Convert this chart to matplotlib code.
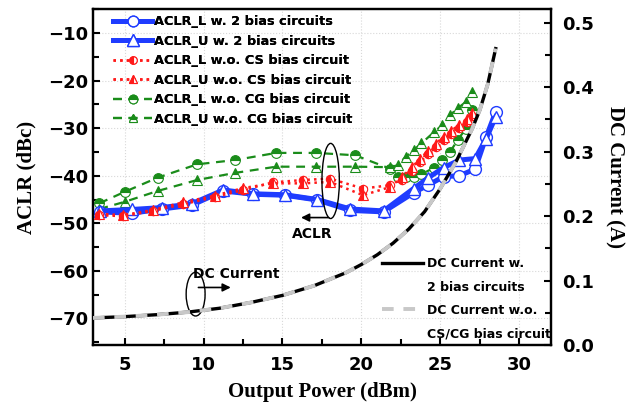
import matplotlib
matplotlib.use("Agg")
import matplotlib.pyplot as plt
from matplotlib.patches import Ellipse
from matplotlib.lines import Line2D
from matplotlib.ticker import MultipleLocator

# ---- data -------------------------------------------------------------
# ACLR with both bias circuits
pout_2b = [3.44, 5.45, 7.35, 9.25, 11.25, 13.15, 15.15, 17.2, 19.3, 21.4,
           23.3, 24.2, 25.2, 26.2, 27.2, 27.9, 28.5]
aclr_l_2b = [-47.6, -47.9, -47.0, -46.2, -43.2, -43.9, -44.1, -45.1, -47.3, -47.6,
             -43.6, -42.0, -40.2, -40.0, -38.6, -31.8, -26.6]
aclr_u_2b = [-47.4, -47.1, -46.7, -45.9, -43.0, -43.8, -44.0, -45.0, -47.0, -47.4,
             -42.7, -40.5, -38.3, -36.7, -36.4, -32.2, -27.6]

# ACLR without CS bias circuit
pout_cs = [3.4, 4.9, 6.8, 8.7, 10.7, 12.5, 14.4, 16.3, 18.0, 20.1, 21.8,
           22.6, 23.2, 23.7, 24.2, 24.7, 25.2, 25.7, 26.2, 26.7, 27.0]
aclr_l_cs = [-48.3, -48.5, -47.4, -46.0, -44.5, -43.0, -41.4, -40.9, -40.6, -42.7, -42.0,
             -40.8, -39.0, -37.2, -35.5, -34.0, -32.5, -31.2, -30.0, -28.8, -27.5]
aclr_u_cs = [-48.0, -48.3, -47.2, -45.6, -44.2, -42.6, -41.6, -41.6, -41.3, -44.1, -42.4,
             -40.2, -38.2, -36.5, -34.8, -33.3, -31.8, -30.5, -29.3, -28.0, -26.8]

# ACLR without CG bias circuit
pout_cg = [3.4, 5.0, 7.1, 9.6, 12.0, 14.6, 17.15, 19.6, 21.8, 22.3, 22.8, 23.3,
           23.8, 24.6, 25.1, 25.6, 26.1, 26.6, 27.0]
aclr_l_cg = [-45.8, -43.4, -40.4, -37.6, -36.7, -35.2, -35.2, -35.7, -38.5, -40.2, -40.3, -40.2,
             -39.7, -38.3, -36.7, -35.0, -32.5, -30.1, -26.2]
aclr_u_cg = [-47.0, -45.5, -43.2, -40.9, -39.4, -38.1, -38.1, -38.1, -38.2, -37.8, -36.0, -34.6,
             -33.2, -30.8, -29.4, -27.3, -25.8, -24.5, -22.3]

# DC current
pout_dc = [3, 5, 7, 9, 11, 13, 15, 17, 19, 20, 21, 22, 23, 24, 25, 26, 27, 27.5, 28, 28.5]
idc = [0.042, 0.044, 0.047, 0.051, 0.057, 0.066, 0.077, 0.092, 0.112, 0.125,
       0.140, 0.158, 0.180, 0.207, 0.243, 0.285, 0.335, 0.365, 0.405, 0.46]

# ---- figure -----------------------------------------------------------
fig = plt.figure(figsize=(6.39, 4.08), dpi=100)
ax = fig.add_axes([0.1455, 0.1544, 0.7167, 0.8228])
ax2 = ax.twinx()

sans_bold = dict(family="DejaVu Sans", weight="bold")
serif_bold = dict(family="Liberation Serif", weight="bold")

blue = "#1f3cff"
red = "#ff1a1a"
green = "#1a8c1a"

h1, = ax.plot(pout_2b, aclr_l_2b, '-', color=blue, lw=3.6, marker='o', ms=8.5,
              mfc='white', mec=blue, mew=1.0, label="ACLR_L w. 2 bias circuits", zorder=4)
h2, = ax.plot(pout_2b, aclr_u_2b, '-', color=blue, lw=3.6, marker='^', ms=9,
              mfc='white', mec=blue, mew=1.0, label="ACLR_U w. 2 bias circuits", zorder=4)
h3, = ax.plot(pout_cs, aclr_l_cs, ':', color=red, lw=1.8, marker='o', ms=6,
              fillstyle='left', mfc=red, mfcalt='white', mec=red, mew=0.8,
              label="ACLR_L w.o. CS bias circuit", zorder=5)
h4, = ax.plot(pout_cs, aclr_u_cs, ':', color=red, lw=1.8, marker='^', ms=6.5,
              fillstyle='left', mfc=red, mfcalt='white', mec=red, mew=0.8,
              label="ACLR_U w.o. CS bias circuit", zorder=5)
h5, = ax.plot(pout_cg, aclr_l_cg, '--', color=green, lw=1.6, dashes=(4, 3), marker='o', ms=7,
              fillstyle='top', mfc=green, mfcalt='white', mec=green, mew=0.8,
              label="ACLR_L w.o. CG bias circuit", zorder=3)
h6, = ax.plot(pout_cg, aclr_u_cg, '--', color=green, lw=1.6, dashes=(4, 3), marker='^', ms=7,
              fillstyle='top', mfc=green, mfcalt='white', mec=green, mew=0.8,
              label="ACLR_U w.o. CG bias circuit", zorder=3)

d1, = ax2.plot(pout_dc, idc, '-', color='black', lw=2.4, zorder=3)
d2, = ax2.plot(pout_dc, idc, '--', color='#c8c8c8', lw=2.8, dashes=(3, 2.5), zorder=4)

# ---- axes -------------------------------------------------------------
ax.set_xlim(3, 32)
ax.set_ylim(-75.6, -5)

ax.xaxis.set_major_locator(MultipleLocator(5))
ax.xaxis.set_minor_locator(MultipleLocator(2.5))
ax.yaxis.set_major_locator(MultipleLocator(10))
ax.yaxis.set_minor_locator(MultipleLocator(5))
ax2.yaxis.set_major_locator(MultipleLocator(0.1))
ax2.yaxis.set_minor_locator(MultipleLocator(0.05))

for a in (ax, ax2):
    for s in a.spines.values():
        s.set_linewidth(1.6)
    a.tick_params(which='both', direction='in', width=1.5, labelsize=13)
    a.tick_params(which='major', length=5)
    a.tick_params(which='minor', length=4)
ax.tick_params(axis='y', which='both', right=False)
ax.tick_params(axis='x', which='both', top=False, pad=8)
ax2.tick_params(axis='y', pad=8)

for lab in ax.get_xticklabels() + ax.get_yticklabels():
    lab.set_fontweight('bold')
    lab.set_family("DejaVu Sans")
idc_ticks = [0.0, 0.1, 0.2, 0.3, 0.4, 0.5]
ax2.set_yticks(idc_ticks)
ax2.set_yticklabels([f"{v:.1f}" for v in idc_ticks], **sans_bold, fontsize=13)
ax2.set_ylim(0, 0.521)

ax.grid(True, which='major', color='#d8d8d8', linestyle=':', linewidth=0.8)
ax.set_axisbelow(True)

ax.set_xlabel("Output Power (dBm)", fontsize=15, labelpad=6, **serif_bold)
ax.set_ylabel("ACLR (dBc)", fontsize=15, labelpad=8, **serif_bold)
ax2.set_ylabel("DC Current (A)", fontsize=15, rotation=270, labelpad=22, **serif_bold)

# ---- annotations ------------------------------------------------------
ax.add_patch(Ellipse((18.05, -41.1), 1.1, 15.8, fill=False, ec='black', lw=1.0, zorder=6))
ax.annotate("", xy=(16.0, -48.8), xytext=(18.1, -48.8),
            arrowprops=dict(arrowstyle='-|>', color='black', lw=1.2, mutation_scale=12), zorder=6)
ax.text(16.9, -52.3, "ACLR", fontsize=10, ha='center', va='center', **sans_bold)

ax.add_patch(Ellipse((9.5, -64.9), 1.2, 9.2, fill=False, ec='black', lw=1.0, zorder=6))
ax.annotate("", xy=(11.9, -63.5), xytext=(9.5, -63.5),
            arrowprops=dict(arrowstyle='-|>', color='black', lw=1.2, mutation_scale=12), zorder=6)
ax.text(12.1, -60.7, "DC Current", fontsize=10, ha='center', va='center', **sans_bold)

# ---- legends ----------------------------------------------------------
leg1 = ax.legend(handles=[h1, h2, h3, h4, h5, h6], loc='upper left',
                 bbox_to_anchor=(0.033, 0.997), borderaxespad=0, frameon=False,
                 numpoints=1, handlelength=3.0, handletextpad=0.15, labelspacing=0.5,
                 markerscale=0.9,
                 prop=dict(family="DejaVu Sans", weight="bold", size=9.3))
ax.add_artist(leg1)

blank = Line2D([], [], color='none')
leg2 = ax2.legend(handles=[d1, blank, d2, blank],
                  labels=["DC Current w.", "2 bias circuits", "DC Current w.o.", "CS/CG bias circuit"],
                  loc='upper left', bbox_to_anchor=(0.62, 0.276), borderaxespad=0, frameon=False,
                  handlelength=3.3, handletextpad=0.3, labelspacing=0.82,
                  prop=dict(family="DejaVu Sans", weight="bold", size=9))

fig.savefig("out.png", dpi=100)
